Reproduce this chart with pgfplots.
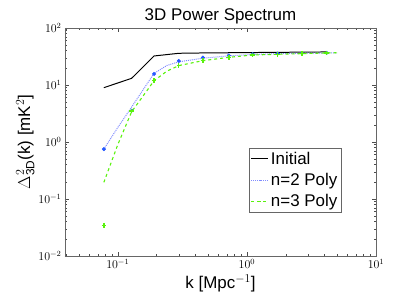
\documentclass[border=0pt]{standalone}
\usepackage{pgfplots}
\pgfplotsset{compat=1.18}
\usepackage{fontspec}
\setmainfont{Liberation Sans}
\definecolor{bdot}{rgb}{0.15,0.35,1}
\definecolor{bline}{rgb}{0.5,0.55,1}
\definecolor{gline}{rgb}{0.35,0.95,0.05}
\begin{document}
\begin{tikzpicture}
\begin{axis}[
  scale only axis, width=311bp, height=228bp,
  xmode=log, ymode=log,
  xmin=0.039, xmax=10, ymin=0.01, ymax=100,
  title={3D Power Spectrum},
  title style={font=\fontsize{17}{19}\selectfont, yshift=-6bp},
  xlabel={k [Mpc$^{-1}$]}, ylabel={$\Delta^2_{\mathrm{3D}}$(k) [mK$^2$]},
  label style={font=\fontsize{17}{19}\selectfont},
  xlabel style={yshift=1bp}, ylabel style={yshift=-3bp},
  tick label style={font=\fontsize{12}{14}\selectfont},
  tick align=inside, tick pos=both,
  major tick length=4bp, minor tick length=2bp,
  every tick/.style={black!70, line width=0.4pt},
  axis line style={black!60, line width=0.5pt},
  legend style={at={(0.8875,0.193)}, anchor=south east, font=\fontsize{17}{19}\selectfont,
    draw=black!60, inner sep=1.5pt, row sep=3.5pt},
  legend cell align=left,
]
\addplot[black, line width=1pt] coordinates {
(0.078,8.97)(0.128,13.1)(0.191,32.3)(0.297,36)(0.456,36.5)(0.725,36.8)(1.11,37.1)(1.73,37.4)(2.67,37.7)(4.15,38)};
\addlegendentry{Initial}
\addplot[bline, densely dotted, line width=1pt] coordinates {
(0.078,0.75)(0.1,1.8)(0.128,4.1)(0.16,8.8)(0.191,16)(0.24,22)(0.297,25.5)(0.456,29.5)(0.725,32.5)(1.11,34.3)(1.73,35.4)(2.67,36)(4.15,36.5)(5.0,36.7)};
\addlegendentry{n=2 Poly}
\addplot[gline, dashed, line width=1.1pt] coordinates {
(0.078,0.196)(0.1,0.9)(0.128,3.4)(0.16,6.8)(0.191,11.9)(0.24,17.5)(0.297,21.9)(0.456,26.7)(0.725,30.6)(1.11,33.6)(1.73,34.6)(2.67,35.5)(4.15,36.5)(5.0,36.8)};
\addlegendentry{n=3 Poly}
\addplot[only marks, mark=*, mark size=1.8pt, bdot, forget plot] coordinates {
(0.078,0.75)(0.128,3.54)(0.191,15.6)(0.297,26.4)(0.456,30.2)(0.725,33)(1.11,34.6)(1.73,35.5)(2.67,36)(4.15,36.5)};
\addplot[only marks, mark=+, mark size=2.3pt, color=gline, line width=1.3pt, forget plot, mark options={draw=gline, solid}] coordinates {
(0.078,0.0346)(0.128,3.5)(0.191,11.9)(0.297,21.9)(0.456,26.7)(0.725,30.6)(1.11,33.6)(1.73,34.6)(2.67,35.5)(4.15,36.5)};
\end{axis}
\pgfresetboundingbox
\useasboundingbox ([xshift=-65bp,yshift=-46bp]current axis.south west) rectangle ([xshift=39bp,yshift=28bp]current axis.north east);
\end{tikzpicture}
\end{document}
